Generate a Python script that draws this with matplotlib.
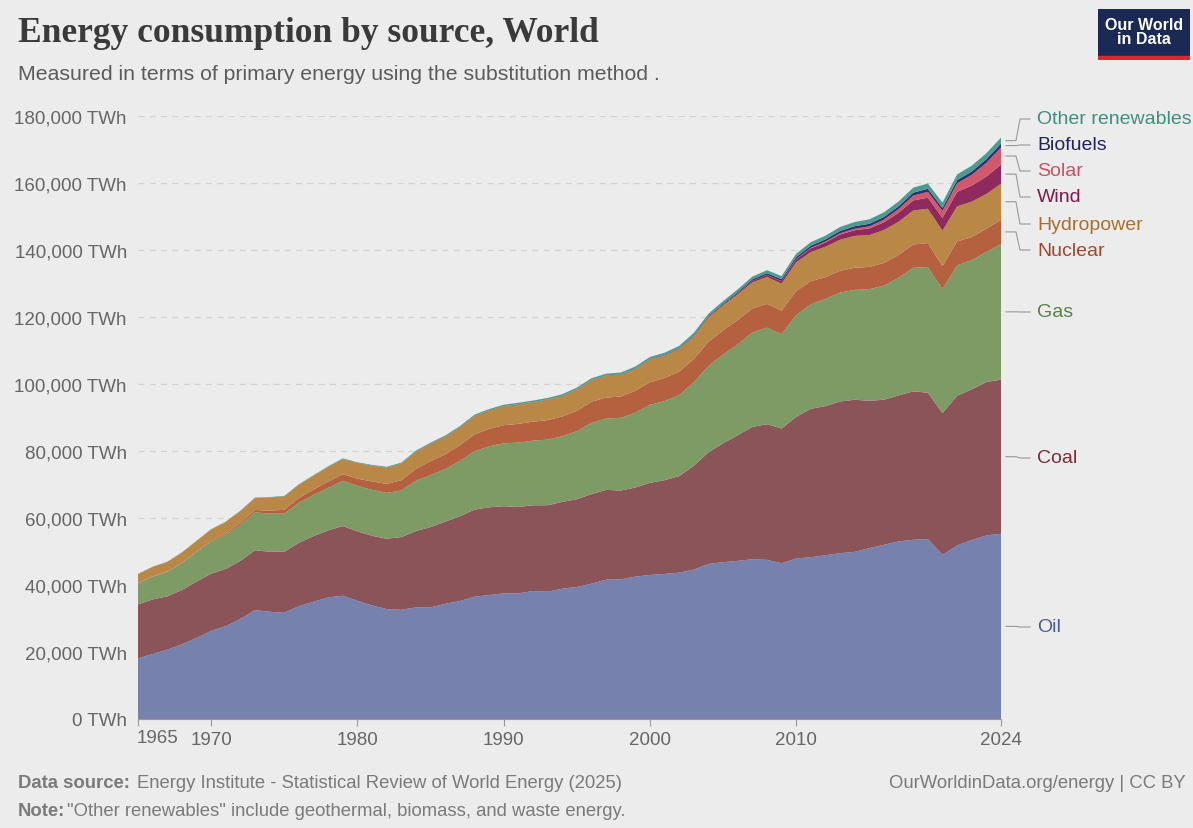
import numpy as np
import matplotlib.pyplot as plt

plt.rcParams['font.family'] = ['Liberation Sans', 'DejaVu Sans']

years = list(range(1965, 2025))

oil = [18100, 19400, 20700, 22300, 24200, 26300, 27700, 29900, 32500, 32000,
       31700, 33700, 35000, 36300, 36800, 35300, 33900, 32800, 32600, 33300,
       33300, 34400, 35200, 36500, 37000, 37500, 37500, 38200, 38000, 38900,
       39400, 40400, 41600, 41700, 42500, 43000, 43300, 43700, 44600, 46300,
       46800, 47200, 47700, 47500, 46500, 47900, 48300, 48900, 49500, 49900,
       51000, 52000, 53000, 53500, 53700, 49000, 51800, 53400, 54800, 55300]
coal = [16100, 16300, 15900, 16200, 16800, 17100, 17100, 17300, 17900, 17900,
        18200, 18900, 19600, 20000, 20800, 20700, 20800, 21000, 21700, 22800,
        24000, 24500, 25300, 26000, 26200, 26000, 25800, 25600, 25800, 25900,
        26200, 26700, 26800, 26500, 26600, 27500, 28000, 28800, 31000, 33300,
        35500, 37500, 39500, 40500, 40200, 42300, 44300, 44500, 45300, 45400,
        44000, 43300, 43600, 44300, 43700, 42300, 44700, 45000, 45800, 46000]
gas = [6300, 6800, 7300, 8000, 8800, 9600, 10200, 10800, 11300, 11400,
       11400, 12000, 12300, 12700, 13500, 13600, 13700, 13700, 13900, 15000,
       15500, 15700, 16500, 17400, 18200, 18800, 19200, 19300, 19600, 19600,
       20300, 21300, 21300, 21700, 22300, 23300, 23600, 24200, 24900, 25800,
       26500, 27100, 28200, 28800, 28200, 30400, 31200, 32000, 32500, 32800,
       33300, 34100, 35100, 36900, 37500, 37000, 38900, 38600, 38800, 40500]
nuclear = [70, 100, 130, 170, 210, 280, 380, 520, 680, 880,
           1150, 1320, 1600, 1850, 1950, 2150, 2500, 2700, 3050, 3600,
           4150, 4400, 4700, 5050, 5200, 5400, 5600, 5650, 5820, 5900,
           6100, 6300, 6250, 6350, 6550, 6700, 6900, 7000, 6950, 7200,
           7200, 7300, 7150, 7100, 7000, 7150, 6900, 6500, 6500, 6600,
           6650, 6750, 6800, 6950, 7150, 6900, 7150, 6850, 6950, 7200]
hydro = [2700, 2800, 2850, 3000, 3130, 3300, 3450, 3560, 3620, 3940,
         4000, 4000, 4100, 4370, 4540, 4640, 4700, 4800, 4970, 5080,
         5180, 5240, 5290, 5450, 5450, 5620, 5780, 5780, 6050, 6050,
         6320, 6370, 6480, 6480, 6530, 6800, 6700, 6750, 6800, 7240,
         7450, 7670, 7780, 8050, 8050, 8590, 8690, 9070, 9290, 9500,
         9500, 9830, 9940, 10150, 10260, 10580, 10480, 10580, 10370, 10800]
wind = [0] * 25 + [10, 10, 10, 15, 15,
                   20, 30, 30, 40, 60, 80, 100, 140, 170, 220,
                   280, 350, 460, 580, 720, 900, 1100, 1300, 1550, 1700,
                   2000, 2300, 2700, 3000, 3300, 3800, 4300, 4800, 5200, 5700]
solar = [0] * 40 + [10, 15, 20, 35, 55, 90, 170, 260, 350, 470,
                    600, 800, 1100, 1450, 1750, 2100, 2600, 3200, 4100, 5100]
biofuels = [0] * 10 + [10, 15, 20, 25, 30, 35, 40, 45, 50, 55,
                       60, 60, 65, 65, 70, 70, 70, 70, 70, 70,
                       70, 70, 70, 75, 80, 90, 110, 140, 180, 220,
                       260, 330, 420, 520, 560, 600, 630, 650, 700, 740,
                       780, 790, 820, 870, 920, 870, 950, 1020, 1100, 1150]
other = [60, 65, 70, 75, 80, 90, 100, 110, 120, 130,
         140, 150, 160, 180, 190, 200, 220, 240, 260, 290,
         310, 330, 350, 370, 390, 410, 430, 450, 470, 490,
         510, 530, 550, 570, 590, 610, 620, 650, 680, 710,
         750, 790, 830, 880, 930, 1000, 1050, 1100, 1180, 1250,
         1320, 1380, 1440, 1500, 1570, 1600, 1680, 1720, 1760, 1800]

names = ["Oil", "Coal", "Gas", "Nuclear", "Hydropower", "Wind", "Solar", "Biofuels", "Other renewables"]
series = [oil, coal, gas, nuclear, hydro, wind, solar, biofuels, other]
fills = ["#7681ad", "#8b5459", "#7e9b66", "#b5603f", "#b98746", "#8e2a5e", "#d2586b", "#2c3170", "#4d9b8f"]
texts = ["#4c5a9a", "#7a2e36", "#5b7f44", "#a8432a", "#a9702a", "#7d1a4e", "#cf4f63", "#1f2460", "#3f8e80"]
label_y = [628, 459, 313, 251, 225, 198, 172, 146, 120]  # pixel rows of the labels

bg = "#ececec"
W, H = 1193, 829
fig = plt.figure(figsize=(W / 100, H / 100), dpi=100, facecolor=bg)
ax = fig.add_axes([138 / W, 1 - 720 / H, (1001 - 138) / W, (720 - 117) / H])
ax.set_facecolor(bg)

ax.stackplot(years, *series, colors=fills, linewidth=0)
ax.set_xlim(1965, 2024)
ax.set_ylim(0, 180000)

yt = np.arange(0, 180001, 20000)
ax.set_yticks(yt)
ax.set_yticklabels([f"{v:,} TWh" for v in yt], fontsize=13.5, color="#666666")
ax.tick_params(axis="y", length=0, pad=8)
for v in yt[1:]:
    ax.axhline(v, color="#d4d4d4", lw=0.9, ls=(0, (5, 4)), zorder=0)
ax.set_xticks([1965, 1970, 1980, 1990, 2000, 2010, 2024])
ax.set_xticklabels(["", "1970", "1980", "1990", "2000", "2010", "2024"], fontsize=13.5, color="#666666")
fig.text(158 / W, 1 - 739 / H, "1965", fontsize=13.5, color="#666666", ha="center", va="center")
ax.tick_params(axis="x", length=5, color="#999999")
for s in ["top", "right", "left"]:
    ax.spines[s].set_visible(False)
ax.spines["bottom"].set_color("#999999")

# right-hand labels with leader lines
cum = np.cumsum([s[-1] for s in series])
bottoms = np.concatenate([[0], cum[:-1]])
for i, name in enumerate(names):
    mid = (bottoms[i] + cum[i]) / 2
    fig.text(1037 / W, 1 - label_y[i] / H, name, va="center", ha="left",
             fontsize=14, color=texts[i])
    ypix = 720 - mid / 180000 * (720 - 117)
    xs = np.array([1006, 1016, 1020, 1030])
    ys = np.array([ypix, ypix, label_y[i], label_y[i]])
    fig.add_artist(plt.Line2D(xs / W, 1 - ys / H, color="#999999", lw=0.8))

fig.text(18 / W, 1 - 33 / H, "Energy consumption by source, World", fontsize=25.5, fontweight="bold",
         family="Liberation Serif", color="#3a3a3a", va="center")
fig.text(18 / W, 1 - 75 / H, "Measured in terms of primary energy using the substitution method .",
         fontsize=15.3, color="#5b5b5b", va="center")
fig.text(18 / W, 1 - 784 / H, "Data source:", fontsize=13.3, color="#7a7a7a", va="center", fontweight="bold")
fig.text(137 / W, 1 - 784 / H, "Energy Institute - Statistical Review of World Energy (2025)",
         fontsize=13.3, color="#7a7a7a", va="center")
fig.text(18 / W, 1 - 812 / H, "Note:", fontsize=13.3, color="#7a7a7a", va="center", fontweight="bold")
fig.text(67 / W, 1 - 812 / H, "\"Other renewables\" include geothermal, biomass, and waste energy.",
         fontsize=13.3, color="#7a7a7a", va="center")
fig.text(1186 / W, 1 - 784 / H, "OurWorldinData.org/energy | CC BY", fontsize=13.3, color="#7a7a7a",
         va="center", ha="right")

# logo
lax = fig.add_axes([1098 / W, 1 - 61 / H, 92 / W, 51 / H])
lax.set_xlim(0, 1); lax.set_ylim(0, 1); lax.axis("off")
lax.add_patch(plt.Rectangle((0, 0.08), 1, 0.92, color="#1a2a55"))
lax.add_patch(plt.Rectangle((0, 0), 1, 0.08, color="#d42b30"))
lax.text(0.5, 0.56, "Our World\nin Data", color="white", ha="center", va="center",
         fontsize=11.5, fontweight="bold", linespacing=0.95)

fig.savefig("out.png", dpi=100, facecolor=bg)
